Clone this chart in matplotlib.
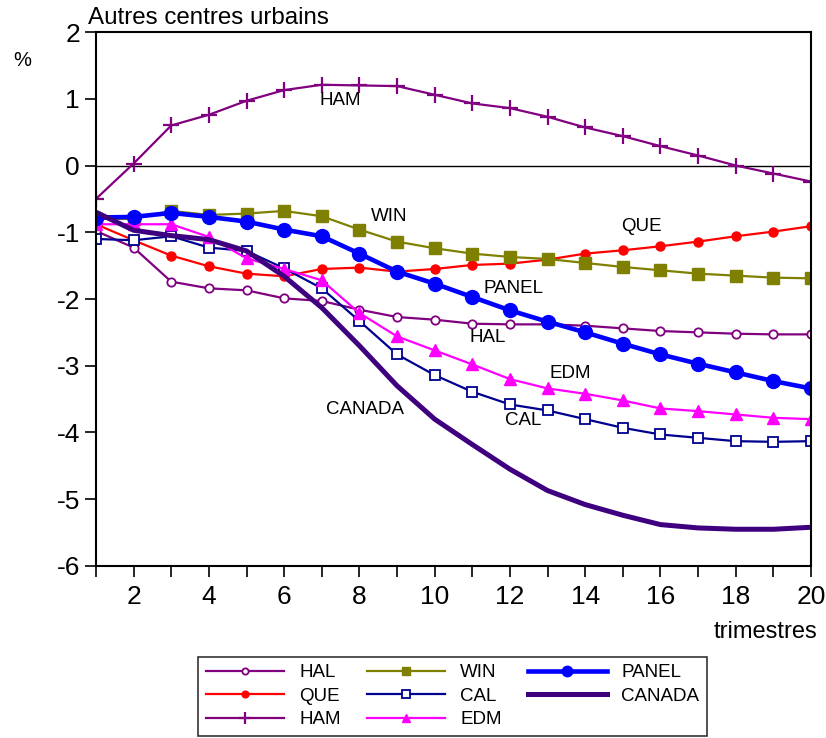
import matplotlib
matplotlib.use("Agg")
import matplotlib.pyplot as plt

plt.rcParams['font.family'] = ['Liberation Sans', 'DejaVu Sans']
plt.rcParams['axes.unicode_minus'] = False

trimestres = list(range(1, 21))

hal = [-0.98, -1.23, -1.74, -1.84, -1.87, -1.99, -2.03, -2.16, -2.27, -2.31,
       -2.37, -2.38, -2.38, -2.40, -2.44, -2.48, -2.50, -2.52, -2.53, -2.53]
que = [-0.88, -1.12, -1.35, -1.51, -1.62, -1.66, -1.55, -1.53, -1.59, -1.55,
       -1.49, -1.47, -1.41, -1.32, -1.27, -1.21, -1.14, -1.06, -0.99, -0.91]
ham = [-0.50, 0.03, 0.60, 0.76, 0.97, 1.13, 1.21, 1.20, 1.19, 1.06,
       0.93, 0.86, 0.73, 0.57, 0.44, 0.29, 0.15, 0.00, -0.12, -0.24]
win = [-0.80, -0.80, -0.68, -0.74, -0.72, -0.68, -0.76, -0.96, -1.14, -1.24,
       -1.32, -1.37, -1.40, -1.46, -1.52, -1.57, -1.62, -1.65, -1.68, -1.69]
cal = [-1.10, -1.12, -1.06, -1.23, -1.28, -1.54, -1.84, -2.33, -2.83, -3.14,
       -3.39, -3.58, -3.67, -3.80, -3.93, -4.03, -4.08, -4.13, -4.14, -4.13]
edm = [-0.88, -0.88, -0.88, -1.07, -1.39, -1.55, -1.72, -2.21, -2.56, -2.77,
       -2.98, -3.20, -3.34, -3.42, -3.52, -3.64, -3.68, -3.73, -3.78, -3.80]
panel = [-0.78, -0.77, -0.71, -0.77, -0.84, -0.96, -1.06, -1.32, -1.59, -1.77,
         -1.97, -2.17, -2.34, -2.50, -2.67, -2.83, -2.97, -3.10, -3.23, -3.34]
canada = [-0.70, -0.97, -1.05, -1.11, -1.28, -1.66, -2.13, -2.70, -3.30, -3.80,
          -4.18, -4.55, -4.87, -5.08, -5.24, -5.38, -5.43, -5.45, -5.45, -5.42]

fig = plt.figure(figsize=(8.26, 7.38), dpi=100)
ax = fig.add_axes([0.1162, 0.2331, 0.8656, 0.7235])

ax.axhline(0, color='black', lw=1.0, zorder=1)

ax.plot(trimestres, hal, color='#800080', lw=1.6, marker='o', ms=6,
        mfc='white', mec='#800080', mew=1.3, label='HAL')
ax.plot(trimestres, que, color='#ff0000', lw=1.6, marker='o', ms=6.5,
        label='QUE')
ax.plot(trimestres, ham, color='#800080', lw=1.6, marker='+', ms=12,
        mew=1.6, label='HAM')
ax.plot(trimestres, win, color='#808000', lw=1.6, marker='s', ms=8,
        label='WIN')
ax.plot(trimestres, cal, color='#000090', lw=1.6, marker='s', ms=7.5,
        mfc='white', mec='#000090', mew=1.3, label='CAL')
ax.plot(trimestres, edm, color='#ff00ff', lw=1.6, marker='^', ms=8,
        label='EDM')
ax.plot(trimestres, panel, color='#0000ff', lw=3.3, marker='o', ms=10,
        label='PANEL')
ax.plot(trimestres, canada, color='#3f0080', lw=3.6, label='CANADA')

ax.set_xlim(1, 20)
ax.set_ylim(-6, 2)
ax.set_xticks(range(2, 21, 2))
ax.set_xticks(range(1, 21), minor=True)
ax.set_yticks(range(-6, 3))
ax.tick_params(axis='both', which='both', direction='out', length=8,
               width=1.2, labelsize=19, top=False, right=False)
ax.tick_params(axis='x', pad=6)
for sp in ax.spines.values():
    sp.set_linewidth(1.5)

# series labels inside the plot
ax.text(7.5, 0.97, 'HAM', fontsize=13.5, ha='center', va='center')
ax.text(8.8, -0.77, 'WIN', fontsize=13.5, ha='center', va='center')
ax.text(15.5, -0.92, 'QUE', fontsize=13.5, ha='center', va='center')
ax.text(12.1, -1.85, 'PANEL', fontsize=13.5, ha='center', va='center')
ax.text(11.4, -2.57, 'HAL', fontsize=13.5, ha='center', va='center')
ax.text(13.6, -3.12, 'EDM', fontsize=13.5, ha='center', va='center')
ax.text(12.35, -3.82, 'CAL', fontsize=13.5, ha='center', va='center')
ax.text(8.15, -3.65, 'CANADA', fontsize=13.5, ha='center', va='center')

fig.text(88 / 826, 1 - 18 / 738, 'Autres centres urbains', fontsize=17.4,
         ha='left', va='center')
fig.text(22 / 826, 1 - 60 / 738, '%', fontsize=14.5, ha='center', va='center')
fig.text(765 / 826, 1 - 632 / 738, 'trimestres', fontsize=17,
         ha='center', va='center')

leg = fig.legend(loc='lower left', ncol=3, mode='expand',
                 bbox_to_anchor=(198 / 826, 2 / 738, 509 / 826, 89 / 738),
                 fontsize=13.5, frameon=True, fancybox=False,
                 edgecolor='black', handlelength=4.2, labelspacing=0.35,
                 borderaxespad=0, columnspacing=1.0, markerscale=0.75)
leg.get_frame().set_linewidth(1.2)

fig.savefig('out.png', dpi=100)
